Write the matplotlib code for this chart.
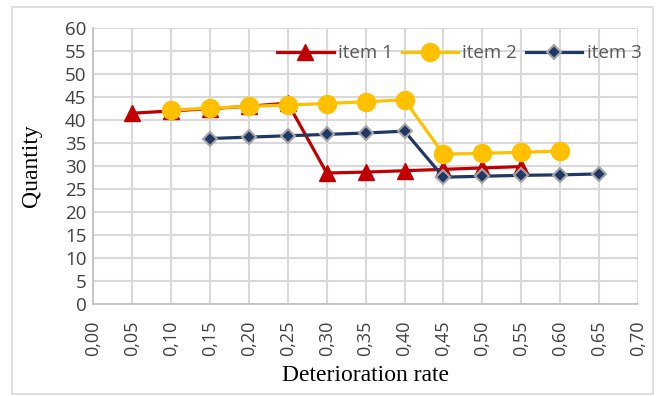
import matplotlib.pyplot as plt
from matplotlib.patches import Rectangle

# Quantity vs deterioration rate for three items
rate_1 = [0.05, 0.10, 0.15, 0.20, 0.25, 0.30, 0.35, 0.40, 0.45, 0.50, 0.55]
qty_1 = [41.5, 42.0, 42.5, 43.0, 43.7, 28.5, 28.7, 29.0, 29.3, 29.6, 29.9]

rate_2 = [0.10, 0.15, 0.20, 0.25, 0.30, 0.35, 0.40, 0.45, 0.50, 0.55, 0.60]
qty_2 = [42.2, 42.6, 43.0, 43.3, 43.6, 44.0, 44.4, 32.6, 32.8, 33.0, 33.3]

rate_3 = [0.15, 0.20, 0.25, 0.30, 0.35, 0.40, 0.45, 0.50, 0.55, 0.60, 0.65]
qty_3 = [36.0, 36.3, 36.6, 36.9, 37.2, 37.6, 27.6, 27.8, 28.0, 28.1, 28.3]

x_ticks = [i * 0.05 for i in range(15)]
y_ticks = list(range(0, 61, 5))

fig = plt.figure(figsize=(6.57, 3.96), dpi=100)
ax = fig.add_axes([0.142, 0.232, 0.829, 0.697])

ax.plot(rate_1, qty_1, color="#C00000", lw=2.3, marker="^", ms=12,
        label="item 1", zorder=3)
ax.plot(rate_2, qty_2, color="#FFC000", lw=2.3, marker="o", ms=13,
        label="item 2", zorder=4)
ax.plot(rate_3, qty_3, color="#1F3864", lw=2.3, marker="D", ms=7.5,
        mec="#A6A6A6", mew=1.5, label="item 3", zorder=5)

ax.set_xlim(0, 0.70)
ax.set_ylim(0, 60)
ax.set_xticks(x_ticks)
ax.set_xticklabels([f"{v:.2f}".replace(".", ",") for v in x_ticks],
                   rotation=90)
ax.set_yticks(y_ticks)
ax.grid(True, color="#D9D9D9", lw=1.5)
ax.set_axisbelow(True)
ax.tick_params(length=0, labelsize=13.5, labelcolor="#404040")
ax.tick_params(axis="x", pad=12, labelsize=13)
ax.tick_params(axis="y", pad=5)
for lbl in ax.get_xticklabels() + ax.get_yticklabels():
    lbl.set_family("Open Sans")
for side in ["top", "right"]:
    ax.spines[side].set_visible(False)
for side in ["left", "bottom"]:
    ax.spines[side].set_color("#BFBFBF")
    ax.spines[side].set_linewidth(1.2)

ax.set_xlabel("Deterioration rate", family="Liberation Serif", fontsize=17)
ax.set_ylabel("Quantity", family="Liberation Serif", fontsize=17)
ax.xaxis.set_label_coords(0.5, -0.222)
ax.yaxis.set_label_coords(-0.094, 0.5)

leg = ax.legend(loc="upper right", ncol=3, frameon=False, handlelength=3.0,
                handletextpad=0.25, columnspacing=0.45, borderaxespad=0.0,
                bbox_to_anchor=(1.02, 0.968),
                prop={"family": "Open Sans", "size": 13.5})
for t in leg.get_texts():
    t.set_color("#595959")

fig.patches.append(Rectangle((0.018, 0.005), 0.976, 0.977,
                             transform=fig.transFigure, fill=False,
                             edgecolor="#D9D9D9", lw=1.2))

fig.savefig("out.png", dpi=100)
